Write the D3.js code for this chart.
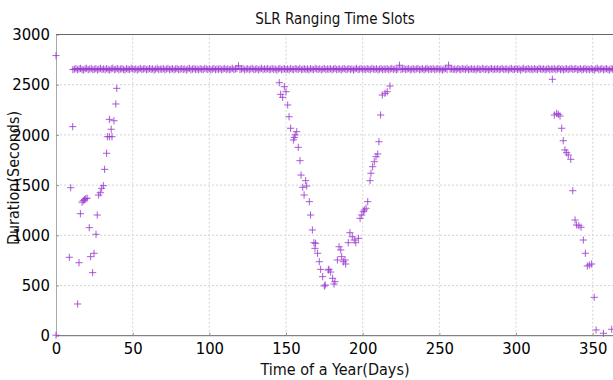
<!DOCTYPE html>
<html><head><meta charset="utf-8">
<script src="https://cdn.jsdelivr.net/npm/d3@7"></script>
<style>body{margin:0;background:#fff}svg{display:block}</style>
</head><body>
<svg id="c" width="613" height="380"></svg>
<script>
const title = "SLR Ranging Time Slots";
const xLabel = "Time of a Year(Days)";
const yLabel = "Duration(Seconds)";
const xTicks = [0,50,100,150,200,250,300,350];
const yTicks = [0,500,1000,1500,2000,2500,3000];

// Main band: one slot per day starting at day 11
const bandStart = 11;
const bandValues = [
2650,2655,2660,2648,2657,2662,2652,2646,2658,2663,2650,2656,2661,2649,2654,2660,2647,2655,2662,2651,
2657,2649,2660,2653,2645,2658,2664,2650,2655,2661,2648,2656,2659,2652,2646,2660,2654,2650,2663,2657,
2651,2658,2647,2655,2662,2650,2656,2660,2649,2654,2661,2652,2658,2646,2655,2663,2650,2657,2653,2660,
2648,2656,2662,2651,2655,2659,2647,2657,2661,2650,2654,2660,2652,2658,2646,2656,2663,2649,2655,2661,
2651,2657,2648,2660,2654,2650,2662,2656,2652,2659,2647,2655,2661,2650,2657,2653,2660,2648,2656,2662,
2651,2658,2649,2655,2663,2650,2657,2660,2688,2652,2656,2661,2648,2655,2659,2650,2657,2662,2651,2654,
2660,2647,2656,2663,2650,2658,2653,2661,2649,2655,2660,2652,2657,2646,2656,2662,2650,2655,2659,2651,
2657,2648,2661,2654,2650,2660,2656,2652,2663,2649,2655,2658,2651,2657,2647,2660,2654,2650,2662,2656,
2652,2659,2648,2655,2661,2650,2657,2653,2660,2649,2656,2662,2651,2655,2658,2647,2657,2661,2650,2654,
2660,2652,2658,2646,2656,2663,2650,2655,2661,2651,2657,2649,2660,2654,2650,2662,2656,2652,2659,2648,
2655,2661,2650,2657,2653,2660,2649,2656,2662,2651,2658,2648,2655,2694,2650,2657,2660,2652,2656,2661,
2648,2655,2659,2650,2657,2662,2651,2654,2660,2647,2656,2663,2650,2658,2653,2661,2649,2655,2660,2652,
2657,2646,2656,2662,2650,2694,2655,2659,2651,2657,2648,2661,2654,2650,2660,2656,2652,2663,2649,2655,
2658,2651,2657,2647,2660,2654,2650,2662,2656,2652,2659,2648,2655,2661,2650,2657,2653,2660,2649,2656,
2662,2651,2655,2658,2647,2657,2661,2650,2654,2660,2652,2658,2646,2656,2663,2650,2655,2661,2651,2657,
2649,2660,2654,2650,2662,2656,2652,2659,2648,2655,2661,2650,2657,2653,2660,2649,2656,2662,2651,2658,
2648,2655,2660,2650,2657,2662,2652,2656,2661,2649,2654,2660,2647,2655,2662,2651,2657,2649,2660,2653,
2645,2658,2664,2650,2655,2661,2648,2656,2659,2652,2646,2660,2654,2650,2663
];

// Extra (short) slots, [day, seconds]
const extraDays = [0,0,8.7,9.6,10.9,14.1,15,15.9,17,17.8,18.6,19.4,20.3,21.7,22.6,23.9,24.8,26.1,26.9,27.8,28.9,29.8,30.9,31.7,33,33.5,34.8,34.8,36,36.5,37.8,39,39.6,
145.6,146.5,147.8,148.9,150,151.1,152,153,154.8,155.4,156,157,158,159.1,159.8,160.9,161.8,162.8,163.5,165.2,166,167.2,168.2,168.9,169.3,170.6,171.7,172.6,173.9,175,175.6,177.6,178,179.1,180.4,181.3,181.9,183.5,184.6,185.7,186.3,187.4,188.5,188.9,190.6,191.7,193.2,194.5,195.5,197.2,198.3,199.4,200.4,201.1,202.2,203.3,204.8,205.4,206.5,207.6,208.7,209.8,210.6,211.7,212.8,214.6,216,217.8,
323.7,325,326.5,327.6,328.7,329.8,330.8,331.9,333,334.1,335.7,337,338.5,339.5,341,342.4,343.9,345.2,346.5,347.8,349.3,351,352.2,357,362.4];
const extraValues = [2790,5,781,1474,2082,316,727,1215,1330,1345,1355,1365,1370,1076,787,628,821,1010,1202,1401,1424,1468,1494,1657,1817,1982,1982,2155,2056,1982,2141,2308,2464,
2520,2404,2374,2480,2430,2298,2181,2066,1950,1975,2000,2032,1876,1743,1600,1478,1401,1544,1491,1335,1202,1053,926,870,920,821,737,661,588,495,505,654,661,634,572,515,538,754,886,854,787,737,754,714,926,1026,986,953,926,970,1169,1202,1235,1252,1269,1335,1544,1618,1683,1733,1783,1810,1932,2198,2397,2414,2430,2487,
2554,2198,2215,2205,2188,2066,1942,1850,1823,1800,1757,1444,1152,1103,1096,1080,953,821,694,704,714,382,57,24,64];

const svg = d3.select("#c");
const W = 613, H = 380;
const x = d3.scaleLinear().domain([0,365]).range([56, 56 + 365*1.5334]);
const y = d3.scaleLinear().domain([0,3000]).range([335.7, 34.5]);
const font = "'DejaVu Sans Condensed', 'Liberation Sans', Arial, sans-serif";

// grid
svg.append("g").selectAll("line").data(xTicks.filter(d=>d>0)).join("line")
  .attr("x1",d=>x(d)).attr("x2",d=>x(d)).attr("y1",y(0)).attr("y2",y(3000))
  .attr("stroke","#d4d4d4").attr("stroke-dasharray","2,2").attr("stroke-width",1);
svg.append("g").selectAll("line").data(yTicks.filter(d=>d>0&&d<3000)).join("line")
  .attr("x1",x(0)).attr("x2",W).attr("y1",d=>y(d)).attr("y2",d=>y(d))
  .attr("stroke","#d4d4d4").attr("stroke-dasharray","2,2").attr("stroke-width",1);

// y label (behind tick labels)
svg.append("text").attr("transform","translate(19,178) rotate(-90)").attr("text-anchor","middle")
  .attr("font-family",font).attr("font-size",16).attr("fill","#111").text(yLabel);

// axes
const xAxis = d3.axisBottom(x).tickValues(xTicks).tickFormat(d3.format("d")).tickSizeInner(-3).tickSizeOuter(0).tickPadding(6);
const gx = svg.append("g").attr("transform",`translate(0,${y(0)})`).call(xAxis);
gx.select(".domain").attr("stroke","#666").attr("d",`M${x(0)},0H${W}`);
gx.selectAll(".tick line").attr("stroke","#999");
gx.selectAll("text").attr("font-family",font).attr("font-size",16.5).attr("fill","#000").attr("dy","0.72em");

const yAxis = d3.axisLeft(y).tickValues(yTicks).tickFormat(d3.format("d")).tickSizeInner(-3).tickSizeOuter(0).tickPadding(6);
const gy = svg.append("g").attr("transform",`translate(${x(0)},0)`).call(yAxis);
gy.select(".domain").attr("stroke","#aaa");
gy.selectAll(".tick line").attr("stroke","#999");
gy.selectAll("text").attr("font-family",font).attr("font-size",16.5).attr("fill","#000");

// top border
svg.append("line").attr("x1",x(0)).attr("x2",W).attr("y1",y(3000)).attr("y2",y(3000)).attr("stroke","#666");

// markers
const plus = "M-3.6,0H3.6M0,-3.6V3.6";
const col = "#9c3ccf";
const pts = bandValues.map((v,i)=>[bandStart+i, v]).concat(extraDays.map((d,i)=>[d, extraValues[i]]));
svg.append("g").selectAll("path").data(pts).join("path")
  .attr("transform",d=>`translate(${x(d[0])},${y(d[1])})`)
  .attr("d",plus).attr("stroke",col).attr("stroke-width",1).attr("fill","none").attr("opacity",0.85);

// texts
svg.append("text").attr("x",335).attr("y",24).attr("text-anchor","middle")
  .attr("font-family",font).attr("font-size",15).attr("fill","#111").text(title);
svg.append("text").attr("x",335).attr("y",375).attr("text-anchor","middle")
  .attr("font-family",font).attr("font-size",16).attr("fill","#111").text(xLabel);
</script>
</body></html>
